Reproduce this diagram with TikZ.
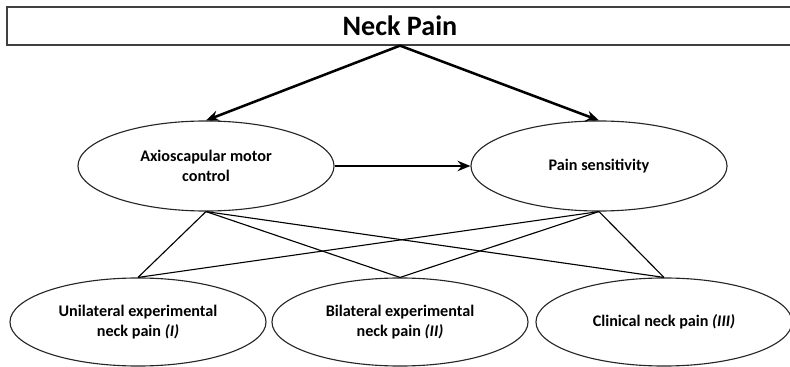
\documentclass[tikz,border=0pt]{standalone}
\usepackage{fontspec}
\setmainfont{Carlito}
\usepackage{tikz}
\usetikzlibrary{positioning, arrows.meta, shapes.geometric}

\begin{document}
\begin{tikzpicture}[
    x=0.025cm, y=-0.025cm,
    titlebox/.style={rectangle, draw=black!75, line width=0.9pt, minimum width=19.65cm,
                  minimum height=0.95cm, inner sep=0pt, font=\bfseries\fontsize{20}{22}\selectfont},
    oval/.style={ellipse, draw=black!85, line width=0.8pt, minimum width=6.4cm,
                  minimum height=2.2cm, inner sep=0pt, align=center,
                  font=\bfseries\fontsize{11.5}{14.5}\selectfont},
    arrow/.style={-{Stealth[length=3.2mm, width=2.6mm]}, line width=1.8pt},
    link/.style={line width=0.8pt}
]
    \useasboundingbox (0,0) rectangle (790,367);

    % Top box
    \node[titlebox] (neck) at (400,26) {Neck Pain};

    % Middle row
    \node[oval, minimum height=2.25cm] (motor) at (206,166) {Axioscapular motor\\control};
    \node[oval, minimum height=2.25cm] (sens) at (599,166) {Pain sensitivity};

    % Bottom row
    \node[oval] (uni) at (138,322) {Unilateral experimental\\neck pain \textit{(I)}};
    \node[oval] (bi) at (400,322) {Bilateral experimental\\neck pain \textit{(II)}};
    \node[oval] (clin) at (664,322) {Clinical neck pain \textit{(III)}};

    % Arrows
    \draw[arrow] (neck.south) -- (motor.north);
    \draw[arrow] (neck.south) -- (sens.north);
    \draw[arrow] (motor.east) -- (sens.west);

    % Links to the studies
    \foreach \s in {uni, bi, clin} {
        \draw[link] (motor.south) -- (\s.north);
        \draw[link] (sens.south) -- (\s.north);
    }

\end{tikzpicture}
\end{document}
